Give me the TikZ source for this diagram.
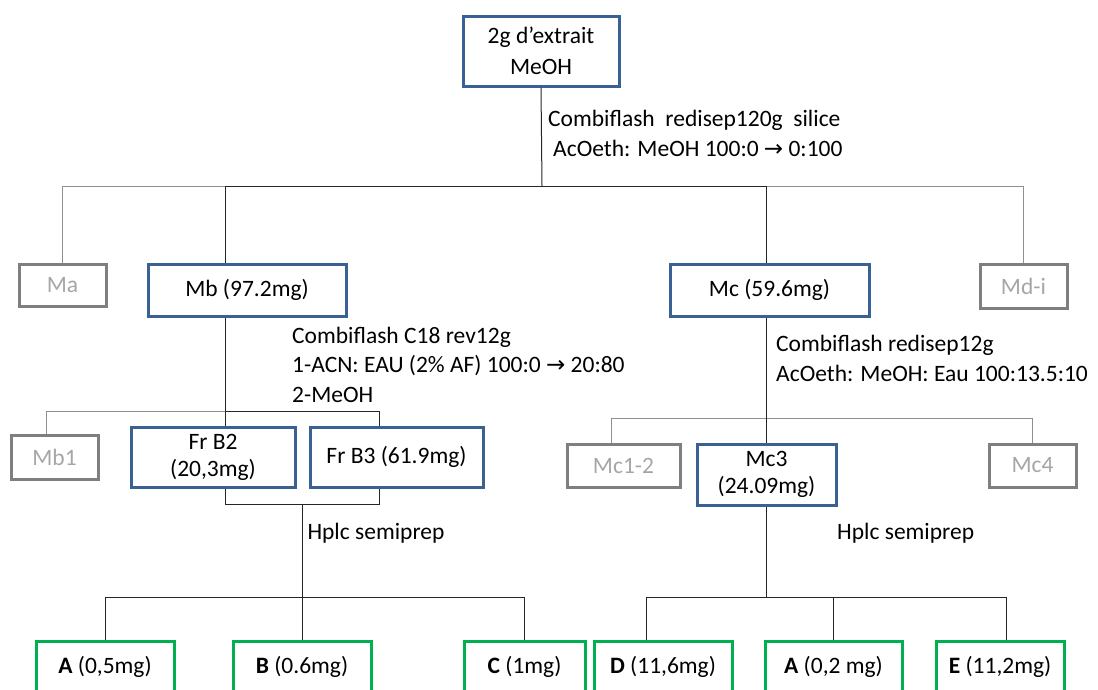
\documentclass[tikz,border=0pt]{standalone}
\usepackage{fontspec}
\setmainfont{Carlito}
\newfontfamily\arrfont{DejaVu Sans}
\newcommand{\rarr}{{\arrfont\fontsize{23}{29}\selectfont →}}
\begin{document}
\begin{tikzpicture}[x=1pt,y=-1pt,
  every node/.style={font=\fontsize{23.5}{29}\selectfont, align=center, inner sep=0pt},
  bluebox/.style={draw=boxblue, line width=3pt, text=black},
  graybox/.style={draw=boxgray, line width=3pt, text=txtgray},
  greenbox/.style={draw=boxgreen, line width=3pt, text=black, anchor=north},
  conn/.style={draw=black!85, line width=1pt},
  gconn/.style={draw=linegray, line width=1pt},
  lbl/.style={anchor=west, align=left}
]
\definecolor{boxblue}{HTML}{3A6193}
\definecolor{boxgray}{HTML}{7F7F7F}
\definecolor{txtgray}{HTML}{A6A6A6}
\definecolor{boxgreen}{HTML}{00B050}
\definecolor{linegray}{HTML}{909090}
\useasboundingbox (0,0) rectangle (1098,689);
\clip (0,0) rectangle (1098,689);
% level 0
\node[bluebox, minimum width=156, minimum height=70] (top) at (541,51) {2g d'extrait\\[2pt]MeOH};
\node[lbl] (t1) at (548,120) {Combiflash\ \ redisep120g\ \ silice};
\node[lbl] (t2) at (553,148) {AcOeth: MeOH 100:0 \rarr{} 0:100};
% level 1
\node[graybox, minimum width=87, minimum height=42] (Ma) at (62.5,285) {Ma};
\node[bluebox, minimum width=198, minimum height=52] (Mb) at (247,290) {Mb (97.2mg)};
\node[bluebox, minimum width=199, minimum height=52] (Mc) at (769.5,290) {Mc (59.6mg)};
\node[graybox, minimum width=87, minimum height=44] (Md) at (1023.5,286) {Md-i};
\coordinate (busA) at (542,186);
\coordinate (trB) at (225,0);
\coordinate (trC) at (766,0);
\draw[conn] (top.south) -- (busA);
\draw[gconn] (busA -| Ma.north) -- (busA -| trB);
\draw[gconn] (busA -| trC) -- (busA -| Md.north);
\draw[conn] (busA -| trB) -- (busA -| trC);
\draw[gconn] (busA -| Ma.north) -- (Ma.north);
\draw[gconn] (busA -| Md.north) -- (Md.north);
\draw[conn] (busA -| trB) -- (Mb.north -| trB);
\draw[conn] (busA -| trC) -- (Mc.north -| trC);
% level 2 left
\node[lbl] (l1) at (292,337) {Combiflash C18 rev12g};
\node[lbl] (l2) at (292,366) {1-ACN: EAU (2\% AF) 100:0 \rarr{} 20:80};
\node[lbl] (l3) at (292,395) {2-MeOH};
\node[graybox, minimum width=87, minimum height=44] (Mb1) at (54.5,457) {Mb1};
\node[bluebox, minimum width=164, minimum height=60] (FrB2) at (213,457) {Fr B2\\[-2pt](20,3mg)};
\node[bluebox, minimum width=173, minimum height=60] (FrB3) at (396.5,457) {Fr B3 (61.9mg)};
\coordinate (busB) at (0,411);
\coordinate (m1x) at (46,0);
\coordinate (b3x) at (379,0);
\draw[conn] (Mb.south -| trB) -- (FrB2.north -| trB);
\draw[gconn] (busB -| m1x) -- (busB -| trB);
\draw[conn] (busB -| trB) -- (busB -| b3x) -- (FrB3.north -| b3x);
\draw[gconn] (busB -| m1x) -- (Mb1.north -| m1x);
\coordinate (joinB) at (0,504);
\coordinate (hx) at (302,0);
\draw[conn] (FrB2.south -| trB) -- (joinB -| trB) -- (joinB -| b3x) -- (FrB3.south -| b3x);
\node[lbl] (h1) at (302,533) {\ Hplc semiprep};
% level 2 right
\node[lbl] (r1) at (776,345) {Combiflash redisep12g};
\node[lbl] (r2) at (776,373) {AcOeth: MeOH: Eau 100:13.5:10};
\node[graybox, minimum width=113, minimum height=43] (Mc12) at (623.5,465.5) {Mc1-2};
\node[bluebox, minimum width=139, minimum height=61] (Mc3) at (766.5,474.5) {Mc3\\[-2pt](24.09mg)};
\node[graybox, minimum width=87, minimum height=43] (Mc4) at (1032.5,465.5) {Mc4};
\coordinate (busC) at (0,418);
\coordinate (c12x) at (611,0);
\draw[gconn] (busC -| c12x) -- (busC -| Mc4.north);
\draw[gconn] (busC -| c12x) -- (Mc12.north -| c12x);
\draw[gconn] (busC -| Mc4.north) -- (Mc4.north);
\draw[conn] (Mc.south -| trC) -- (Mc3.north -| trC);
\node[lbl] (h2) at (837,533) {Hplc semiprep};
% level 3
\coordinate (busD) at (0,597);
\node[greenbox, minimum width=138, minimum height=75] (A1) at (105,640) {};
\node (A1t) at (105,667) {\textbf{A} (0,5mg)};
\node[greenbox, minimum width=138, minimum height=75] (B1) at (302,640) {};
\node (B1t) at (302,667) {\textbf{B} (0.6mg)};
\node[greenbox, minimum width=121, minimum height=75] (C1) at (524.5,640) {};
\node (C1t) at (524.5,667) {\textbf{C} (1mg)};
\node[greenbox, minimum width=138, minimum height=75] (D1) at (663,640) {};
\node (D1t) at (663,667) {\textbf{D} (11,6mg)};
\node[greenbox, minimum width=137, minimum height=75] (A2) at (833.5,640) {};
\node (A2t) at (833.5,667) {\textbf{A} (0,2 mg)};
\node[greenbox, minimum width=128, minimum height=75] (E1) at (1000,640) {};
\node (E1t) at (1000,667) {\textbf{E} (11,2mg)};
\coordinate (dx) at (646,0);
\coordinate (ex) at (1006,0);
\coordinate (cx) at (524,0);
\draw[conn] (joinB -| hx) -- (busD -| hx);
\draw[conn] (busD -| A1.north) -- (busD -| cx);
\draw[conn] (busD -| A1.north) -- (A1.north);
\draw[conn] (busD -| B1.north) -- (B1.north);
\draw[conn] (busD -| cx) -- (C1.north -| cx);
\draw[conn] (Mc3.south -| trC) -- (busD -| trC);
\draw[conn] (busD -| dx) -- (busD -| ex);
\draw[conn] (busD -| dx) -- (D1.north -| dx);
\draw[conn] (busD -| A2.north) -- (A2.north);
\draw[conn] (busD -| ex) -- (E1.north -| ex);
\end{tikzpicture}
\end{document}
